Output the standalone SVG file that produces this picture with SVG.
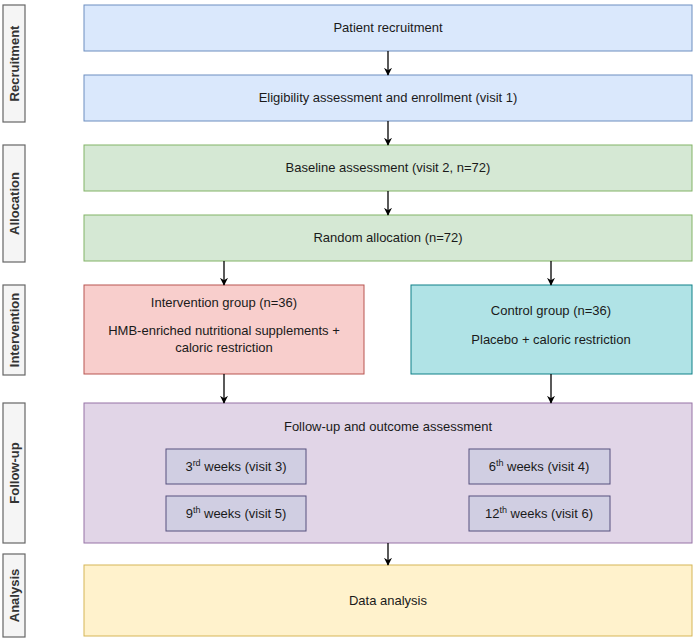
<svg xmlns="http://www.w3.org/2000/svg" width="697" height="640" viewBox="0 0 697 640">
<style>
text{font-family:"Liberation Sans",Arial,sans-serif;font-size:13px;fill:#1a1a1a;text-anchor:middle}
.side{fill:#f5f5f5;stroke:#666;stroke-width:1.2}
.st{font-weight:bold;font-size:13px;fill:#333}
.blue{fill:#dae8fc;stroke:#6c8ebf}
.green{fill:#d5e8d4;stroke:#82b366}
.red{fill:#f8cecc;stroke:#b85450}
.cyan{fill:#b0e3e6;stroke:#0e8088}
.purple{fill:#e1d5e7;stroke:#9673a6}
.inner{fill:#d0cee2;stroke:#56517e}
.yellow{fill:#fff2cc;stroke:#d6b656}
.c{stroke:#000;stroke-width:1.3;fill:none;marker-end:url(#a)}
</style>
<defs><marker id="a" viewBox="0 0 10 10" refX="9" refY="5" markerWidth="8" markerHeight="8" orient="auto" markerUnits="userSpaceOnUse"><path d="M0,0L10,5L0,10L3,5z" fill="#000"/></marker></defs>
<g id="lanes">
<rect class="side" x="3" y="5" width="22" height="117"/><text class="st" transform="translate(19,63.5) rotate(-90)">Recruitment</text>
<rect class="side" x="3" y="145" width="22" height="117"/><text class="st" transform="translate(19,203.5) rotate(-90)">Allocation</text>
<rect class="side" x="3" y="285" width="22" height="90"/><text class="st" transform="translate(19,330) rotate(-90)">Intervention</text>
<rect class="side" x="3" y="403" width="22" height="140"/><text class="st" transform="translate(19,473) rotate(-90)">Follow-up</text>
<rect class="side" x="3" y="554" width="22" height="83"/><text class="st" transform="translate(19,595.5) rotate(-90)">Analysis</text>
</g>
<g id="n1"><rect class="blue" x="84" y="5" width="608" height="46"/><text x="388" y="32">Patient recruitment</text></g>
<g id="n2"><rect class="blue" x="84" y="75" width="608" height="46"/><text x="388" y="102">Eligibility assessment and enrollment (visit 1)</text></g>
<g id="n3"><rect class="green" x="84" y="145" width="608" height="46"/><text x="388" y="172">Baseline assessment (visit 2, n=72)</text></g>
<g id="n4"><rect class="green" x="84" y="215" width="608" height="46"/><text x="388" y="242">Random allocation (n=72)</text></g>
<g id="n5"><rect class="red" x="84" y="285" width="280" height="89"/><text x="224" y="307">Intervention group (n=36)</text><text x="224" y="335">HMB-enriched nutritional supplements +</text><text x="224" y="352">caloric restriction</text></g>
<g id="n6"><rect class="cyan" x="411" y="285" width="281" height="89"/><text x="551" y="315">Control group (n=36)</text><text x="551" y="344">Placebo + caloric restriction</text></g>
<g id="n7"><rect class="purple" x="84" y="403" width="608" height="140"/><text x="388" y="431">Follow-up and outcome assessment</text>
<rect class="inner" x="166" y="449" width="140" height="35"/><text x="236" y="471">3<tspan dy="-5" font-size="9">rd</tspan><tspan dy="5"> weeks (visit 3)</tspan></text>
<rect class="inner" x="166" y="496" width="140" height="35"/><text x="236" y="518">9<tspan dy="-5" font-size="9">th</tspan><tspan dy="5"> weeks (visit 5)</tspan></text>
<rect class="inner" x="469" y="449" width="141" height="35"/><text x="539" y="471">6<tspan dy="-5" font-size="9">th</tspan><tspan dy="5"> weeks (visit 4)</tspan></text>
<rect class="inner" x="469" y="496" width="141" height="35"/><text x="539" y="518">12<tspan dy="-5" font-size="9">th</tspan><tspan dy="5"> weeks (visit 6)</tspan></text></g>
<g id="n8"><rect class="yellow" x="84" y="565" width="608" height="71"/><text x="388" y="605">Data analysis</text></g>
<g id="connectors">
<path class="c" d="M388,51V75"/><path class="c" d="M388,121V145"/><path class="c" d="M388,191V215"/>
<path class="c" d="M224,261V285"/><path class="c" d="M551,261V285"/>
<path class="c" d="M224,374V403"/><path class="c" d="M551,374V403"/>
<path class="c" d="M388,543V565"/>
</g>
</svg>
